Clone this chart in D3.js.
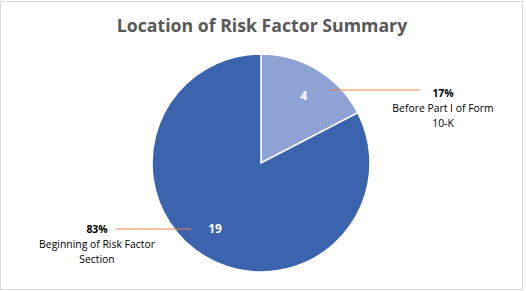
<!DOCTYPE html>
<html>
<head>
<meta charset="utf-8">
<script src="https://cdn.jsdelivr.net/npm/d3@7"></script>
<style>
  body { margin: 0; background: #fff; }
  text { font-family: "Open Sans", "Noto Sans", sans-serif; }
</style>
</head>
<body>
<svg id="chart" width="526" height="291"></svg>
<script>
// data
const categories = ["Before Part I of Form 10-K", "Beginning of Risk Factor Section"];
const values = [4, 19];
const percentLabels = ["17%", "83%"];
const categoryLines = [["Before Part I of Form", "10-K"], ["Beginning of Risk Factor", "Section"]];

const svg = d3.select("#chart");
const colors = d3.scaleOrdinal().domain(categories).range(["#8ea3d4", "#3c63ad"]);

// chart border
svg.append("rect")
  .attr("x", 0.5).attr("y", 1.5)
  .attr("width", 522).attr("height", 288)
  .attr("fill", "none")
  .attr("stroke", "#d9d9d9");

// title
svg.append("text")
  .attr("x", 262).attr("y", 32)
  .attr("text-anchor", "middle")
  .style("font-size", "17.7px")
  .style("font-weight", "bold")
  .style("fill", "#595959")
  .text("Location of Risk Factor Summary");

const cx = 261, cy = 163, r = 109;
const g = svg.append("g").attr("transform", `translate(${cx},${cy})`);

const pie = d3.pie().sort(null).value(d => d.value);
const arcs = pie(values.map((v, i) => ({ name: categories[i], value: v })));
const arc = d3.arc().innerRadius(0).outerRadius(r);

g.selectAll("path")
  .data(arcs)
  .enter()
  .append("path")
  .attr("d", arc)
  .attr("fill", d => colors(d.data.name))
  .attr("stroke", "#fff")
  .attr("stroke-width", 1.5);

// value labels inside the slices
const inner = [[43, -67], [-46, 66]];
g.selectAll(".val")
  .data(arcs)
  .enter()
  .append("text")
  .attr("class", "val")
  .attr("x", (d, i) => inner[i][0])
  .attr("y", (d, i) => inner[i][1])
  .attr("text-anchor", "middle")
  .attr("dy", "0.35em")
  .style("font-size", "12px")
  .style("font-weight", "bold")
  .style("fill", "#fff")
  .text(d => d.value);

// leader lines and outside labels
const leaders = [[[330, 90], [420, 90]], [[191, 229], [116, 229]]];
const labelPos = [[443, 93], [97, 229]];

leaders.forEach(l => {
  svg.append("line")
    .attr("x1", l[0][0]).attr("y1", l[0][1])
    .attr("x2", l[1][0]).attr("y2", l[1][1])
    .attr("stroke", "#e8834f")
    .attr("stroke-width", 1);
});

labelPos.forEach((p, i) => {
  const t = svg.append("text")
    .attr("x", p[0]).attr("y", p[1])
    .attr("text-anchor", "middle")
    .style("font-size", "10.4px")
    .style("fill", "#000");
  t.append("tspan").attr("x", p[0]).attr("dy", "0.35em")
    .style("font-weight", "bold").text(percentLabels[i]);
  categoryLines[i].forEach(line => {
    t.append("tspan").attr("x", p[0]).attr("dy", "15").text(line);
  });
});
</script>
</body>
</html>
